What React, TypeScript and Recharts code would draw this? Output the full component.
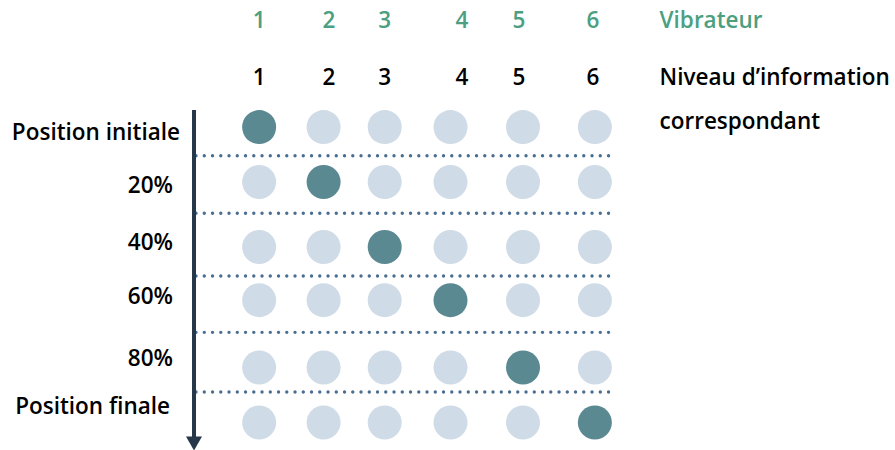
import {
  ScatterChart,
  Scatter,
  XAxis,
  YAxis,
  ReferenceLine,
} from "recharts";

const vibrators = ["1", "2", "3", "4", "5", "6"];
const levels = ["1", "2", "3", "4", "5", "6"];
const headerX = [1, 2.04, 2.87, 4.02, 4.87, 5.97];
const columnX = [1, 1.96, 2.87, 3.85, 4.93, 6];

const rowLabels = [
  "Position initiale",
  "20%",
  "40%",
  "60%",
  "80%",
  "Position finale",
];
const rowY = [1, 1.93, 3.03, 3.93, 5.07, 6];
const labelY = [1.075, 1.98, 2.95, 3.86, 4.915, 5.72];
const separatorY = [1.486, 2.458, 3.52, 4.475, 5.486];
// which vibrator is on for each row
const activeColumn = [0, 1, 2, 3, 4, 5];

const titles = ["Vibrateur", "Niveau d’information", "correspondant"];
const titleY = [-0.814, 0.144, 0.89];
const titleX = 6.964;
const vibratorRowY = -0.814;
const levelRowY = 0.144;

const arrowTop = 0.712;
const arrowBottom = 6.475;
const arrowX = 0.03;
const separatorFrom = 0.06;
const separatorTo = 6.22;

const FONT = "'Open Sans', 'Noto Sans', sans-serif";
const GREEN = "#4c9f80";
const DARK = "#5a8992";
const LIGHT = "#cfdbe6";
const DOTS = "#4a6e91";
const ARROW = "#253748";

const dots = rowY.flatMap((y, r) =>
  columnX.map((x, c) => ({ x, y, active: activeColumn[r] === c }))
);

const headers = [
  ...vibrators.map((t, i) => ({ x: headerX[i], y: vibratorRowY, text: t, color: GREEN })),
  ...levels.map((t, i) => ({ x: headerX[i], y: levelRowY, text: t, color: "#000" })),
];

const titlePoints = titles.map((t, i) => ({
  x: titleX,
  y: titleY[i],
  text: t,
  color: i === 0 ? GREEN : "#000",
}));

const DotShape = (props: any) => (
  <circle
    cx={props.cx}
    cy={props.cy}
    r={17}
    fill={props.payload.active ? DARK : LIGHT}
  />
);

const TextShape = (anchor: "middle" | "start") => (props: any) => (
  <text
    x={props.cx}
    y={props.cy}
    dy="0.36em"
    textAnchor={anchor}
    fontFamily={FONT}
    fontWeight={600}
    fontSize={22.5}
    fill={props.payload.color}
  >
    {props.payload.text}
  </text>
);

const RowTick = (props: any) => {
  const i = props.index;
  const right = i === 0 ? 180 : i === 5 ? 170 : 173;
  return (
    <text
      x={right}
      y={props.y}
      dy="0.36em"
      textAnchor="end"
      fontFamily={FONT}
      fontWeight={600}
      fontSize={22.5}
      fill="#000"
    >
      {rowLabels[i]}
    </text>
  );
};

const DottedLine = (props: any) => (
  <line
    x1={props.x1}
    y1={props.y1}
    x2={props.x2}
    y2={props.y2}
    stroke={DOTS}
    strokeWidth={3.4}
    strokeLinecap="round"
    strokeDasharray="0 8.25"
  />
);

const ArrowLine = (props: any) => {
  const head = 14;
  return (
    <g>
      <line
        x1={props.x1}
        y1={props.y1}
        x2={props.x2}
        y2={props.y2 - head + 1}
        stroke={ARROW}
        strokeWidth={4}
      />
      <polygon
        points={`${props.x2 - 8},${props.y2 - head} ${props.x2 + 8},${props.y2 - head} ${props.x2},${props.y2}`}
        fill={ARROW}
      />
    </g>
  );
};

export default function App() {
  return (
    <div style={{ position: "absolute", left: 0, top: 0 }}>
      <ScatterChart
        width={895}
        height={450}
        margin={{ top: 9, right: 233, bottom: 1, left: 0 }}
      >
        <XAxis dataKey="x" type="number" domain={[0, 7]} hide />
        <YAxis
          dataKey="y"
          type="number"
          domain={[-1, 6.45]}
          reversed
          width={192}
          ticks={labelY}
          interval={0}
          axisLine={false}
          tickLine={false}
          tick={<RowTick />}
          allowDataOverflow
        />
        {separatorY.map((y) => (
          <ReferenceLine
            key={y}
            segment={[
              { x: separatorFrom, y },
              { x: separatorTo, y },
            ]}
            shape={DottedLine}
            ifOverflow="visible"
          />
        ))}
        <ReferenceLine
          segment={[
            { x: arrowX, y: arrowTop },
            { x: arrowX, y: arrowBottom },
          ]}
          shape={ArrowLine}
          ifOverflow="visible"
        />
        <Scatter data={dots} shape={DotShape} isAnimationActive={false} />
        <Scatter data={headers} shape={TextShape("middle")} isAnimationActive={false} />
        <Scatter data={titlePoints} shape={TextShape("start")} isAnimationActive={false} />
      </ScatterChart>
    </div>
  );
}
